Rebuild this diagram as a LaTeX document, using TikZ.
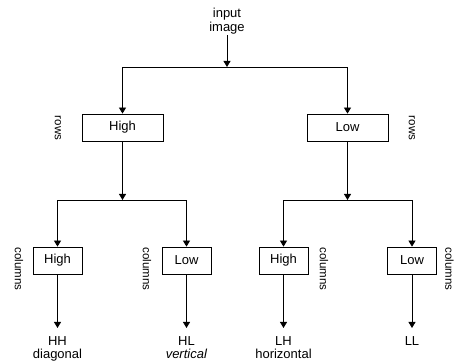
\documentclass[tikz,border=0pt]{standalone}
\usepackage{fontspec}
\setmainfont{Liberation Sans}
\usetikzlibrary{arrows.meta}

\begin{document}
\begin{tikzpicture}[x=1pt,y=-1pt,
    box/.style={draw,line width=0.8pt,minimum height=27pt,inner sep=0pt,font=\fontsize{13}{14}\selectfont},
    big/.style={box,minimum width=81pt},
    small/.style={box,minimum width=49pt},
    tip/.style={-{Triangle[width=7pt,length=6pt]},line width=0.8pt},
    side/.style={rotate=-90,inner sep=0pt,font=\fontsize{11.5}{13}\selectfont},
    result/.style={align=center,anchor=north,inner sep=1pt,outer ysep=8pt,font=\fontsize{13}{12.5}\selectfont}]
      \useasboundingbox (0,0) rectangle (456,363);

      \node[align=center,inner sep=1pt,font=\fontsize{13}{14}\selectfont] (in) at (227,21) {input\\image};
      \coordinate (j0) at (227,67);

      \node[big] (h) at (122.5,127.5) {High};
      \node[big] (l) at (347.5,127.5) {Low};
      \node[side] (rh) at (58,128) {rows};
      \node[side] (rl) at (412,128) {rows};
      \coordinate (j1) at (122.5,200);
      \coordinate (j2) at (347.5,200);

      \node[small] (hh) at (57.5,260.5) {High};
      \node[small] (hl) at (186.5,260.5) {Low};
      \node[small] (lh) at (283.5,260.5) {High};
      \node[small] (ll) at (412,260.5) {Low};
      \node[side] (c1) at (19,269) {columns};
      \node[side] (c2) at (147,269) {columns};
      \node[side] (c3) at (324,269) {columns};
      \node[side] (c4) at (449.5,269) {columns};

      \node[result] (o1) at (57.5,328) {HH\\diagonal};
      \node[result] (o2) at (186.5,328) {HL\\\textit{vertical}};
      \node[result] (o3) at (283.5,328) {LH\\horizontal};
      \node[result] (o4) at (412,328) {LL};

      \draw[tip] (in) -- (j0);
      \draw[tip] (j0) -| (h);
      \draw[tip] (j0) -| (l);
      \draw[tip] (h) -- (j1);
      \draw[tip] (l) -- (j2);
      \draw[tip] (j1) -| (hh);
      \draw[tip] (j1) -| (hl);
      \draw[tip] (j2) -| (lh);
      \draw[tip] (j2) -| (ll);
      \draw[tip] (hh) -- (o1);
      \draw[tip] (hl) -- (o2);
      \draw[tip] (lh) -- (o3);
      \draw[tip] (ll) -- (o4);
    \end{tikzpicture}
\end{document}
